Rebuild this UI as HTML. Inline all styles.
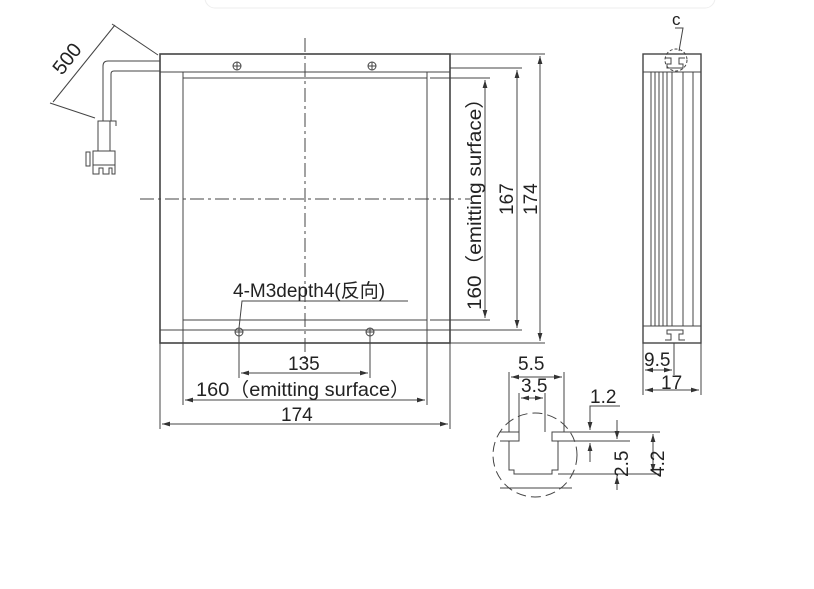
<!DOCTYPE html>
<html><head><meta charset="utf-8"><style>
html,body{margin:0;padding:0;background:#fff;width:814px;height:589px;overflow:hidden}
svg{display:block}
text{font-family:"Liberation Sans","Noto Sans CJK SC",sans-serif;fill:#222}
</style></head><body>
<svg width="814" height="589" viewBox="0 0 814 589" xmlns="http://www.w3.org/2000/svg">
<defs><marker id="a" viewBox="0 0 10 6" refX="10" refY="3" markerWidth="8" markerHeight="5" orient="auto-start-reverse"><path d="M0,0L10,3L0,6z" fill="#333"/></marker></defs>
<rect x="205" y="-12" width="510" height="20" rx="10" fill="#fff" stroke="#eee"/>
<g stroke="#444" fill="none" stroke-width="1">
<rect x="160" y="54" width="290" height="289" stroke-width="1.6"/>
<line x1="160" y1="72" x2="183" y2="72"/><line x1="427" y1="72" x2="450" y2="72"/>
<line x1="160" y1="330" x2="183" y2="330"/><line x1="427" y1="330" x2="450" y2="330"/>
<rect x="183" y="72" width="244" height="258"/>
<line x1="183" y1="78" x2="427" y2="78"/><line x1="183" y1="320" x2="427" y2="320"/>
<line x1="305" y1="38" x2="305" y2="360" stroke-dasharray="14,4,3,4"/>
<line x1="140" y1="199" x2="470" y2="199" stroke-dasharray="14,4,3,4"/>
<circle cx="237" cy="66" r="4"/><circle cx="372" cy="66" r="4"/>
<circle cx="239" cy="332" r="4"/><circle cx="370" cy="332" r="4"/>
<path d="M233 66h8M237 62v8M368 66h8M372 62v8M235 332h8M239 328v8M366 332h8M370 328v8"/>
<path d="M160 61H108q-5 0-5 5v55"/><path d="M160 71H114q-3 0-3 3v47"/>
<path d="M98 121h18v5"/><rect x="98" y="121" width="12" height="30"/>
<rect x="93" y="151" width="22" height="14"/><path d="M93 165v9h6v-6h4v6h6v-6h3v6h3v-9"/>
<rect x="86" y="152" width="4" height="14"/>
<line x1="158" y1="55" x2="112" y2="24"/><line x1="95" y1="118" x2="50" y2="103"/>
<line x1="115" y1="25" x2="53" y2="102"/>
<line x1="430" y1="78" x2="490" y2="78"/><line x1="430" y1="320" x2="490" y2="320"/>
<line x1="485" y1="80" x2="485" y2="318" marker-start="url(#a)" marker-end="url(#a)"/>
<line x1="450" y1="68" x2="522" y2="68"/><line x1="450" y1="330" x2="522" y2="330"/>
<line x1="517" y1="70" x2="517" y2="328" marker-start="url(#a)" marker-end="url(#a)"/>
<line x1="450" y1="54" x2="545" y2="54"/><line x1="450" y1="343" x2="545" y2="343"/>
<line x1="540" y1="56" x2="540" y2="341" marker-start="url(#a)" marker-end="url(#a)"/>
<line x1="239" y1="336" x2="239" y2="378"/><line x1="370" y1="336" x2="370" y2="378"/>
<line x1="241" y1="373" x2="368" y2="373" marker-start="url(#a)" marker-end="url(#a)"/>
<line x1="183" y1="330" x2="183" y2="405"/><line x1="427" y1="330" x2="427" y2="405"/>
<line x1="185" y1="400" x2="425" y2="400" marker-start="url(#a)" marker-end="url(#a)"/>
<line x1="160" y1="343" x2="160" y2="429"/><line x1="450" y1="343" x2="450" y2="429"/>
<line x1="162" y1="424" x2="448" y2="424" marker-start="url(#a)" marker-end="url(#a)"/>
<path d="M239 328l3-27H408"/>
<rect x="643" y="54" width="58" height="289" stroke-width="1.4"/>
<line x1="643" y1="72" x2="701" y2="72"/><line x1="643" y1="326" x2="701" y2="326"/>
<line x1="651" y1="72" x2="651" y2="326"/><line x1="655" y1="72" x2="655" y2="326"/>
<line x1="659" y1="72" x2="659" y2="326"/><line x1="663" y1="72" x2="663" y2="326"/>
<line x1="667" y1="72" x2="667" y2="326"/><line x1="672" y1="72" x2="672" y2="326"/>
<line x1="683" y1="72" x2="683" y2="326"/><line x1="693" y1="72" x2="693" y2="326"/>
<path d="M665 58h6v6h-4v4h16v-4h-4v-6h6"/><path d="M665 340h6v-6h-4v-4h16v4h-4v6h6"/>
<circle cx="676" cy="60" r="11" stroke-dasharray="3,2"/>
<path d="M675 28h8l-4 23"/>
<line x1="643" y1="343" x2="643" y2="395"/><line x1="701" y1="343" x2="701" y2="395"/>
<line x1="674" y1="343" x2="674" y2="375"/>
<line x1="645" y1="370" x2="672" y2="370" marker-start="url(#a)" marker-end="url(#a)"/>
<line x1="645" y1="390" x2="699" y2="390" marker-start="url(#a)" marker-end="url(#a)"/>
<!-- detail C -->
<circle cx="535" cy="455" r="42" stroke-dasharray="10,5"/>
<path d="M500 432h19v9h-19M572 432h-20v9h20"/>
<path d="M509 441v29h5v4h38v-4h6v-29"/>
<line x1="500" y1="488" x2="572" y2="488"/>
<line x1="509" y1="372" x2="509" y2="432"/><line x1="564" y1="372" x2="564" y2="432"/>
<line x1="519" y1="393" x2="519" y2="432"/><line x1="545" y1="393" x2="545" y2="432"/>
<line x1="511" y1="377" x2="562" y2="377" marker-start="url(#a)" marker-end="url(#a)"/>
<line x1="521" y1="398" x2="543" y2="398" marker-start="url(#a)" marker-end="url(#a)"/>
<line x1="572" y1="432" x2="660" y2="432"/><line x1="572" y1="441" x2="630" y2="441"/>
<line x1="558" y1="474" x2="660" y2="474"/>
<path d="M620 406h-30v24" marker-end="url(#a)"/>
<line x1="590" y1="462" x2="590" y2="443" marker-end="url(#a)"/>
<line x1="617" y1="420" x2="617" y2="439" marker-end="url(#a)"/>
<line x1="617" y1="490" x2="617" y2="476" marker-end="url(#a)"/>
<line x1="653" y1="434" x2="653" y2="472" marker-start="url(#a)" marker-end="url(#a)"/>
</g>
<text x="0" y="0" font-size="20" transform="translate(62,76) rotate(-52)">500</text>
<text x="233" y="297" font-size="19">4-M3depth4(反向)</text>
<text x="288" y="370" font-size="19">135</text>
<text x="196" y="396" font-size="19" textLength="214" lengthAdjust="spacingAndGlyphs">160（emitting surface）</text>
<text x="281" y="421" font-size="19">174</text>
<text font-size="19" transform="translate(481,310) rotate(-90)" textLength="222" lengthAdjust="spacingAndGlyphs">160（emitting surface）</text>
<text font-size="19" transform="translate(513,215) rotate(-90)">167</text>
<text font-size="19" transform="translate(537,215) rotate(-90)">174</text>
<text x="672" y="25" font-size="17">c</text>
<text x="644" y="366" font-size="19">9.5</text>
<text x="661" y="389" font-size="19">17</text>
<text x="518" y="370" font-size="19">5.5</text>
<text x="521" y="392" font-size="19">3.5</text>
<text x="590" y="403" font-size="19">1.2</text>
<text font-size="19" transform="translate(628,477) rotate(-90)">2.5</text>
<text font-size="19" transform="translate(664,477) rotate(-90)">4.2</text>
</svg>
</body></html>
